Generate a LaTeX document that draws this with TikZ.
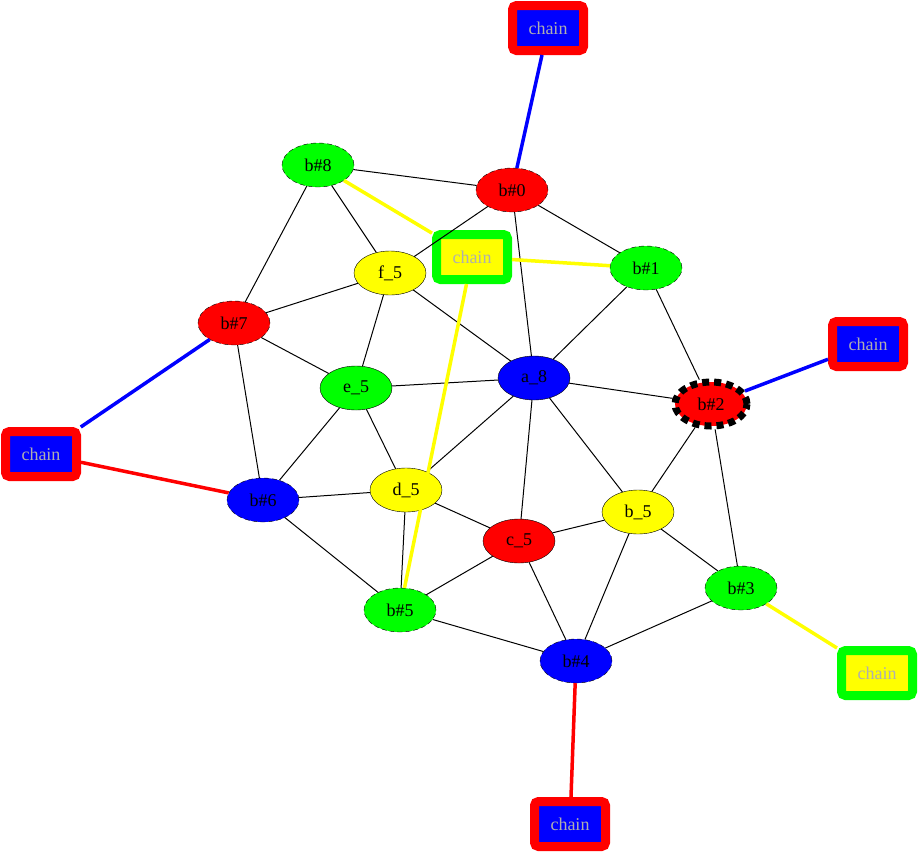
\documentclass[tikz,border=0pt]{standalone}
\usepackage{fontspec}
\setmainfont{Liberation Serif}
\usepackage{xcolor}
\definecolor{gvred}{RGB}{255,0,0}
\definecolor{gvgreen}{RGB}{0,255,0}
\definecolor{gvblue}{RGB}{0,0,255}
\definecolor{gvyellow}{RGB}{255,255,0}
\definecolor{chaingray}{RGB}{175,175,175}
\usetikzlibrary{shapes.geometric}

\begin{document}
\begin{tikzpicture}[
  x=1pt,y=-1pt,
  every node/.style={font=\fontsize{18}{20}\selectfont},
  vert/.style={ellipse,draw,minimum width=72pt,minimum height=44pt,inner sep=0pt},
  bvert/.style={vert,dash pattern=on 5pt off 3pt},
  chainbox/.style={draw,rounded corners=4pt,line width=9pt,
                   minimum width=71pt,minimum height=45pt,text=chaingray},
  edge/.style={black,line width=1pt},
  link/.style={line width=3.5pt},
]
  \useasboundingbox (0,0) rectangle (919,855);

  % Inner vertices
  \node[vert,fill=gvblue] (a8) at (534,378) {a\_8};
  \node[vert,fill=gvyellow] (b5) at (638,512) {b\_5};
  \node[vert,fill=gvred] (c5) at (519,541) {c\_5};
  \node[vert,fill=gvyellow] (d5) at (406,490) {d\_5};
  \node[vert,fill=gvgreen] (e5) at (356,388) {e\_5};
  \node[vert,fill=gvyellow] (f5) at (390,273) {f\_5};

  % Border vertices
  \node[bvert,fill=gvred] (b0) at (512,190) {b\#0};
  \node[bvert,fill=gvgreen] (b1) at (646,268) {b\#1};
  \node[vert,fill=gvred,line width=7pt,dash pattern=on 7pt off 5pt] (b2) at (711,404) {b\#2};
  \node[bvert,fill=gvgreen] (b3) at (741,588) {b\#3};
  \node[bvert,fill=gvblue] (b4) at (576,661) {b\#4};
  \node[bvert,fill=gvgreen] (b5b) at (400,610) {b\#5};
  \node[bvert,fill=gvblue] (b6) at (263,500) {b\#6};
  \node[bvert,fill=gvred] (b7) at (234,323) {b\#7};
  \node[bvert,fill=gvgreen] (b8) at (318,165) {b\#8};

  % Chain boxes
  \node[chainbox,draw=gvred,fill=gvblue] (ctop) at (548,28) {chain};
  \node[chainbox,draw=gvgreen,fill=gvyellow] (cmid) at (472,257) {chain};
  \node[chainbox,draw=gvred,fill=gvblue] (cright) at (868,344) {chain};
  \node[chainbox,draw=gvred,fill=gvblue] (cleft) at (41,454) {chain};
  \node[chainbox,draw=gvgreen,fill=gvyellow] (cbr) at (877,673) {chain};
  \node[chainbox,draw=gvred,fill=gvblue] (cbot) at (570,824) {chain};

  % Graph edges
  \draw[edge] (b8) -- (b0);
  \draw[edge] (b8) -- (f5);
  \draw[edge] (b8) -- (b7);
  \draw[edge] (b0) -- (f5);
  \draw[edge] (b0) -- (b1);
  \draw[edge] (b0) -- (a8);
  \draw[edge] (b1) -- (a8);
  \draw[edge] (b1) -- (b2);
  \draw[edge] (f5) -- (b7);
  \draw[edge] (f5) -- (e5);
  \draw[edge] (f5) -- (a8);
  \draw[edge] (b7) -- (e5);
  \draw[edge] (b7) -- (b6);
  \draw[edge] (e5) -- (a8);
  \draw[edge] (e5) -- (b6);
  \draw[edge] (e5) -- (d5);
  \draw[edge] (a8) -- (b2);
  \draw[edge] (a8) -- (d5);
  \draw[edge] (a8) -- (c5);
  \draw[edge] (a8) -- (b5);
  \draw[edge] (b2) -- (b5);
  \draw[edge] (b2) -- (b3);
  \draw[edge] (b6) -- (d5);
  \draw[edge] (b6) -- (b5b);
  \draw[edge] (d5) -- (c5);
  \draw[edge] (d5) -- (b5b);
  \draw[edge] (c5) -- (b5);
  \draw[edge] (c5) -- (b5b);
  \draw[edge] (c5) -- (b4);
  \draw[edge] (b5) -- (b4);
  \draw[edge] (b5) -- (b3);
  \draw[edge] (b5b) -- (b4);
  \draw[edge] (b3) -- (b4);

  % Chain links
  \draw[link,gvblue] (ctop) -- (b0);
  \draw[link,gvyellow] (cmid) -- (b8);
  \draw[link,gvyellow] (cmid) -- (b1);
  \draw[link,gvyellow] (cmid) -- (b5b);
  \draw[link,gvblue] (cright) -- (b2);
  \draw[link,gvblue] (cleft) -- (b7);
  \draw[link,gvred] (cleft) -- (b6);
  \draw[link,gvyellow] (cbr) -- (b3);
  \draw[link,gvred] (cbot) -- (b4);
\end{tikzpicture}
\end{document}
